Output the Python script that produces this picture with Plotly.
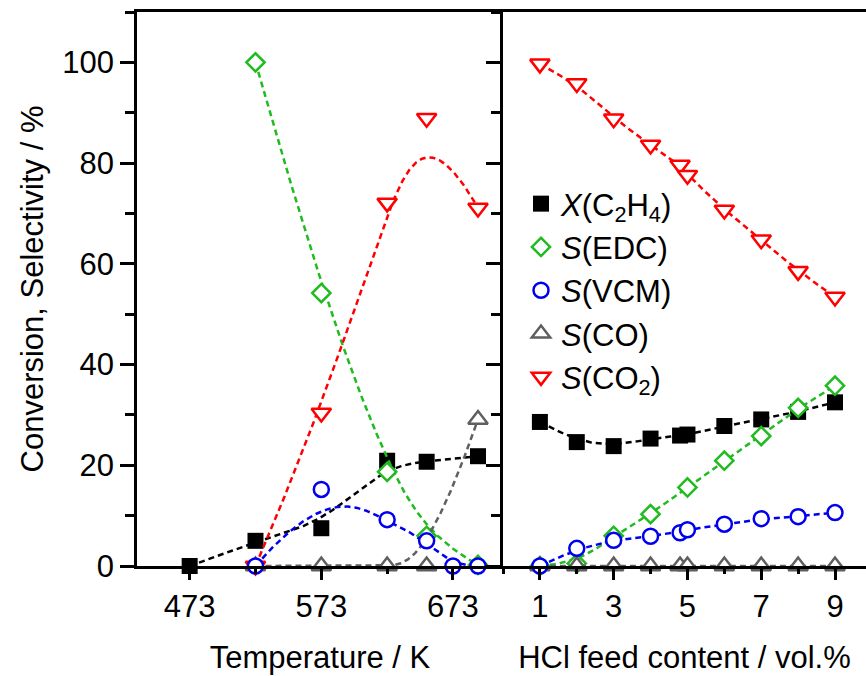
import numpy as np
import plotly.graph_objects as go

# ---- Temperature series (left panel) ----
temp_x = [473, 523, 573, 623, 653, 692]
temp_conv_x = [0.0, 5.0, 7.5, 20.9, 20.7, 21.8]
temp_edc_x = [523, 573, 623, 653, 692]
temp_edc = [100.0, 54.2, 18.7, 6.0, 0.2]
temp_vcm_x = [523, 573, 623, 653, 673, 692]
temp_vcm = [0.0, 15.2, 9.2, 5.0, 0.0, 0.0]
temp_co_x = [523, 573, 623, 653, 692]
temp_co = [0.0, 0.0, 0.0, 0.0, 29.1]
temp_co2_x = [523, 573, 623, 653, 692]
temp_co2 = [0.0, 30.4, 72.1, 88.9, 71.1]

# ---- HCl feed series (right panel) ----
hcl_x = [1, 2, 3, 4, 4.8, 5, 6, 7, 8, 9]
hcl_conv = [28.6, 24.6, 23.8, 25.3, 25.9, 26.1, 27.8, 29.1, 30.6, 32.5]
hcl_edc_x = [1, 2, 3, 4, 5, 6, 7, 8, 9]
hcl_edc = [0.0, 0.5, 6.0, 10.3, 15.6, 20.9, 25.8, 31.4, 35.8]
hcl_vcm = [0.0, 3.5, 5.1, 5.9, 6.6, 7.2, 8.3, 9.4, 9.8, 10.6]
hcl_co = [0.0, 0.0, 0.0, 0.0, 0.0, 0.0, 0.0, 0.0, 0.0, 0.0]
hcl_co2 = [99.7, 95.8, 88.8, 83.6, 79.6, 77.6, 70.7, 64.8, 58.5, 53.4]

temp_ticks = [473, 573, 673]
hcl_ticks = [1, 3, 5, 7, 9]

FONT = "Liberation Sans, Arial, sans-serif"
FS = 31
DASH = "6px,4px"


def bspline(px, py, n=300, k=3):
    """Clamped uniform cubic B-spline using the points as control points."""
    c = np.column_stack([px, py]).astype(float)
    m = len(c)
    knots = [0] * (k + 1) + list(range(1, m - k)) + [m - k] * (k + 1)
    ts = np.linspace(0, m - k, n)
    out = []
    for t in ts:
        s = k
        while s < m - 1 and not (knots[s] <= t < knots[s + 1]):
            s += 1
        d = [c[j + s - k].copy() for j in range(k + 1)]
        for r in range(1, k + 1):
            for j in range(k, r - 1, -1):
                den = knots[j + 1 + s - r] - knots[j + s - k]
                a = 0.0 if den == 0 else (t - knots[j + s - k]) / den
                d[j] = (1 - a) * d[j - 1] + a * d[j]
        out.append(d[k])
    out = np.array(out)
    return out[:, 0], out[:, 1]


series = {
    "conv": dict(name="<i>X</i>(C<sub>2</sub>H<sub>4</sub>)", color="#000000",
                 symbol="square", size=16, rank=1),
    "edc": dict(name="<i>S</i>(EDC)", color="#1fbb1f",
                symbol="diamond-open", size=14, rank=2),
    "co": dict(name="<i>S</i>(CO)", color="#5f5f5f",
               symbol="triangle-up-open", size=17, rank=4),
    "co2": dict(name="<i>S</i>(CO<sub>2</sub>)", color="#ff0000",
                symbol="triangle-down-open", size=17, rank=5),
    "vcm": dict(name="<i>S</i>(VCM)", color="#0000ee",
                symbol="circle-open", size=15, rank=3),
}

left_data = {
    "conv": (temp_x, temp_conv_x),
    "edc": (temp_edc_x, temp_edc),
    "co": (temp_co_x, temp_co),
    "co2": (temp_co2_x, temp_co2),
    "vcm": (temp_vcm_x, temp_vcm),
}
right_data = {
    "conv": (hcl_x, hcl_conv),
    "edc": (hcl_edc_x, hcl_edc),
    "co": (hcl_x, hcl_co),
    "co2": (hcl_x, hcl_co2),
    "vcm": (hcl_x, hcl_vcm),
}

fig = go.Figure()

for panel, data, xa, ya in [("L", left_data, "x", "y"), ("R", right_data, "x2", "y2")]:
    for key in ["conv", "edc", "co", "co2", "vcm"]:
        st = series[key]
        xs, ys = data[key]
        cx, cy = bspline(xs, ys)
        fig.add_trace(go.Scatter(
            x=cx, y=cy, mode="lines", xaxis=xa, yaxis=ya,
            line=dict(color=st["color"], width=2.5, dash=DASH),
            showlegend=False, hoverinfo="skip", cliponaxis=False))
        open_sym = st["symbol"].endswith("open")
        fig.add_trace(go.Scatter(
            x=xs, y=ys, mode="markers", xaxis=xa, yaxis=ya,
            name=st["name"], legendrank=st["rank"],
            showlegend=(panel == "R"), cliponaxis=False,
            marker=dict(symbol=st["symbol"].replace("-open", "") if open_sym else st["symbol"],
                        size=st["size"],
                        color="white" if open_sym else st["color"],
                        line=dict(color=st["color"], width=2.5 if open_sym else 0))))

axis_common = dict(showline=True, linecolor="black", linewidth=2.5, showgrid=False,
                   zeroline=False, ticks="outside", tickcolor="black", tickwidth=2.5,
                   tickfont=dict(family=FONT, size=FS, color="black"))

split = (503 - 137) / 729

fig.update_layout(
    width=866, height=676,
    margin=dict(l=137, r=0, t=12, b=110),
    paper_bgcolor="white", plot_bgcolor="white",
    font=dict(family=FONT, color="black"),
    xaxis=dict(domain=[0, split], range=[433, 711], tickvals=temp_ticks,
               ticklen=11, mirror=True,
               minor=dict(dtick=50, tick0=473, ticklen=5, tickwidth=2.5,
                          ticks="outside", tickcolor="black"),
               title=dict(text="Temperature / K", font=dict(family=FONT, size=FS), standoff=24),
               anchor="y", **axis_common),
    xaxis2=dict(domain=[split, 1], range=[0, 9.84], tickvals=hcl_ticks,
                ticklen=11, mirror=True,
                minor=dict(dtick=1, tick0=0, ticklen=5, tickwidth=2.5,
                           ticks="outside", tickcolor="black"),
                title=dict(text="HCl feed content / vol.%", font=dict(family=FONT, size=FS), standoff=24),
                anchor="y2", **axis_common),
    yaxis=dict(range=[0, 110], dtick=20, tick0=0, ticklen=14, anchor="x",
               minor=dict(dtick=10, tick0=0, ticklen=9, tickwidth=2.5,
                          ticks="outside", tickcolor="black"),
               title=dict(text="Conversion, Selectivity / %", font=dict(family=FONT, size=FS), standoff=10),
               **axis_common),
    yaxis2=dict(range=[0, 110], dtick=20, tick0=0, ticklen=14, anchor="x2",
                showticklabels=False,
                minor=dict(dtick=10, tick0=0, ticklen=9, tickwidth=2.5,
                           ticks="outside", tickcolor="black"),
                **axis_common),
    legend=dict(x=(521 - 137) / 729, y=(566 - 177) / 554, xanchor="left", yanchor="top",
                bgcolor="rgba(0,0,0,0)", font=dict(family=FONT, size=FS, color="black"),
                tracegroupgap=0, itemwidth=30),
)

fig.write_html("out.html")
